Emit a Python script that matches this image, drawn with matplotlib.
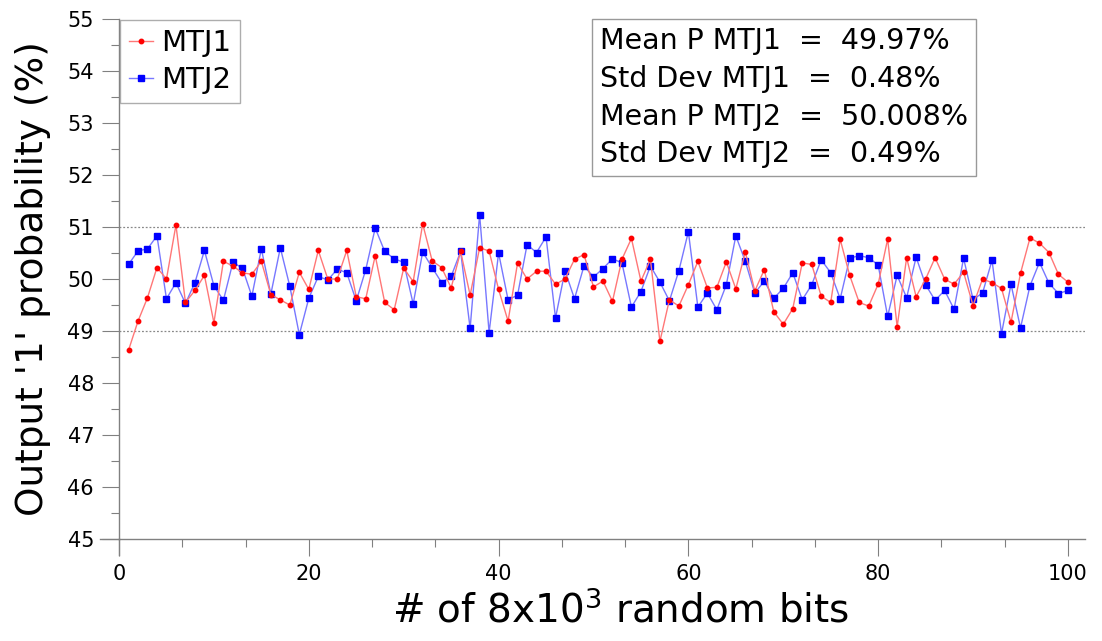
import numpy as np
import matplotlib
matplotlib.use("Agg")
import matplotlib.pyplot as plt
from matplotlib.ticker import MultipleLocator
from matplotlib.lines import Line2D

# sample index (each sample = 8x10^3 bits)
idx = list(range(1, 101))

mtj1 = [48.63, 49.19, 49.64, 50.22, 50.00, 51.04, 49.55, 49.78, 50.07, 49.16,
        50.34, 50.25, 50.12, 50.09, 50.34, 49.70, 49.60, 49.50, 50.13, 49.80,
        50.55, 50.00, 50.00, 50.55, 49.66, 49.62, 50.45, 49.55, 49.41, 50.21,
        49.95, 51.06, 50.35, 50.22, 49.83, 50.53, 49.69, 50.60, 50.54, 49.80,
        49.19, 50.31, 50.00, 50.15, 50.15, 49.90, 50.00, 50.38, 50.47, 49.85,
        49.96, 49.57, 50.38, 50.78, 49.96, 50.38, 48.80, 49.60, 49.48, 49.89,
        50.34, 49.83, 49.84, 50.33, 49.81, 50.52, 49.77, 50.18, 49.37, 49.13,
        49.43, 50.31, 50.28, 49.67, 49.55, 50.76, 50.07, 49.55, 49.48, 49.90,
        50.77, 49.08, 50.41, 49.66, 50.00, 50.41, 50.00, 49.90, 50.13, 49.49,
        50.00, 49.93, 49.82, 49.17, 50.11, 50.79, 50.69, 50.51, 50.09, 49.94]

mtj2 = [50.28, 50.54, 50.58, 50.83, 49.62, 49.93, 49.53, 49.93, 50.55, 49.87,
        49.59, 50.32, 50.21, 49.67, 50.58, 49.71, 50.60, 49.86, 48.93, 49.63,
        50.05, 49.98, 50.19, 50.12, 49.58, 50.18, 50.98, 50.53, 50.39, 50.32,
        49.52, 50.52, 50.22, 49.93, 50.05, 50.53, 49.05, 51.24, 48.97, 50.50,
        49.60, 49.69, 50.66, 50.51, 50.81, 49.25, 50.16, 49.62, 50.25, 50.04,
        50.20, 50.39, 50.31, 49.46, 49.76, 50.25, 49.94, 49.58, 50.16, 50.91,
        49.46, 49.73, 49.41, 49.89, 50.83, 50.34, 49.73, 49.96, 49.63, 49.82,
        50.12, 49.60, 49.89, 50.37, 50.12, 49.62, 50.40, 50.45, 50.41, 50.27,
        49.28, 50.07, 49.64, 50.42, 49.89, 49.59, 49.78, 49.42, 50.40, 49.61,
        49.73, 50.36, 48.95, 49.90, 49.06, 49.87, 50.32, 49.92, 49.72, 49.78]

stats = ["Mean P MTJ1  =  49.97%",
         "Std Dev MTJ1  =  0.48%",
         "Mean P MTJ2  =  50.008%",
         "Std Dev MTJ2  =  0.49%"]

plt.rcParams['mathtext.default'] = 'regular'

fig = plt.figure(figsize=(11.02, 6.41), dpi=100)
ax = fig.add_axes([0.108, 0.159, 0.8766, 0.8114])

ax.axhline(49, color='#888888', lw=0.9, ls=(0, (1.5, 1.5)), zorder=1)
ax.axhline(51, color='#888888', lw=0.9, ls=(0, (1.5, 1.5)), zorder=1)

ax.plot(idx, mtj1, color='#ff7777', lw=1.0, marker='o', ms=3.2,
        mfc='red', mec='red', label='MTJ1', zorder=3)
ax.plot(idx, mtj2, color='#7777ff', lw=1.0, marker='s', ms=4.2,
        mfc='blue', mec='blue', label='MTJ2', zorder=2)

ax.set_xlim(0, 101.8)
ax.set_ylim(45, 55)
ax.xaxis.set_major_locator(MultipleLocator(20))
ax.xaxis.set_minor_locator(MultipleLocator(20 / 3))
ax.yaxis.set_major_locator(MultipleLocator(1))
ax.yaxis.set_minor_locator(MultipleLocator(0.5))

for s in ['top', 'right']:
    ax.spines[s].set_visible(False)
for s in ['left', 'bottom']:
    ax.spines[s].set_color('#808080')
    ax.spines[s].set_linewidth(1.0)

# spines crossing past the origin
ax.add_line(Line2D([-0.02, 0], [0, 0], transform=ax.transAxes, color='#808080',
                   lw=1.0, clip_on=False))
ax.add_line(Line2D([0, 0], [-0.031, 0], transform=ax.transAxes, color='#808080',
                   lw=1.0, clip_on=False))

ax.tick_params(which='major', direction='out', length=12, width=0.8,
               color='#808080', labelsize=15, pad=6, labelcolor='black')
ax.tick_params(which='minor', direction='out', length=6, width=0.8,
               color='#808080')

ax.set_xlabel('# of 8x10$^3$ random bits', fontsize=28)
ax.xaxis.set_label_coords(0.519, -0.1)
ax.set_ylabel("Output '1' probability (%)", fontsize=27, labelpad=12)

leg = ax.legend(loc='upper left', fontsize=21, frameon=True, fancybox=False,
                borderaxespad=0.05, handlelength=0.8, handletextpad=0.3,
                borderpad=0.3, labelspacing=0.3)
leg.get_frame().set_edgecolor('#999999')
leg.get_frame().set_linewidth(1.0)

ax.text(0.498, 0.985, "\n".join(stats), transform=ax.transAxes,
        ha='left', va='top', fontsize=20.5, linespacing=1.45,
        bbox=dict(boxstyle='square,pad=0.28', fc='white', ec='#999999', lw=1.0))

fig.savefig('out.png', dpi=100)
